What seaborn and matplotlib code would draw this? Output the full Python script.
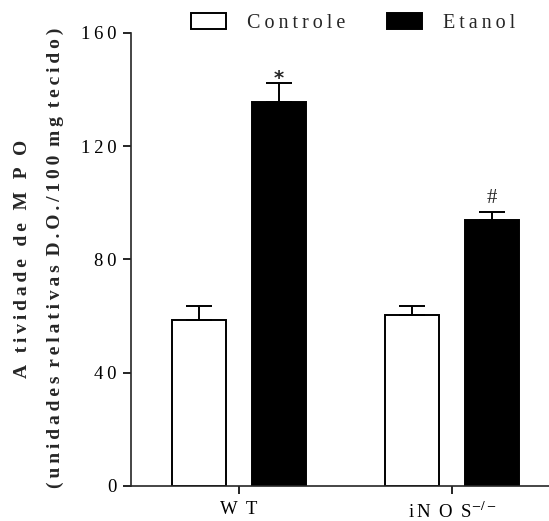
import matplotlib
matplotlib.use("Agg")
import matplotlib.pyplot as plt
from matplotlib.patches import Patch
import pandas as pd
import seaborn as sns

# Data: MPO activity (mean + SEM) per genotype and treatment
groups = ["WT", "iNOS"]
conditions = ["Controle", "Etanol"]
controle_mean = [58.5, 60.5]
etanol_mean = [135.5, 93.8]
controle_sem = [5.2, 3.2]
etanol_sem = [7.0, 3.0]
marks = {"Etanol": ["*", "#"]}
y_ticks = [0, 40, 80, 120, 160]

THIN = "\u2009"


def spaced(text, word_gap=" " + THIN):
    """Letter-spaced text: thin spaces between letters, wider word gaps."""
    out = []
    for i, ch in enumerate(text):
        if ch == " ":
            out.append(word_gap)
            continue
        out.append(ch)
        if i < len(text) - 1 and text[i + 1] != " ":
            out.append(THIN)
    return "".join(out)


sns.set_style("ticks")
plt.rcParams["font.family"] = ["Liberation Serif", "DejaVu Serif"]
plt.rcParams["mathtext.fontset"] = "stix"

df = pd.DataFrame({
    "group": groups * 2,
    "condition": [conditions[0]] * 2 + [conditions[1]] * 2,
    "value": controle_mean + etanol_mean,
})
sems = {"Controle": controle_sem, "Etanol": etanol_sem}
means = {"Controle": controle_mean, "Etanol": etanol_mean}

fig = plt.figure(figsize=(5.49, 5.21), dpi=100)
ax = fig.add_axes([0.2386, 0.0672, 0.7614, 0.8695])

sns.barplot(
    data=df, x="group", y="value", hue="condition",
    order=groups, hue_order=conditions,
    palette={"Controle": "white", "Etanol": "black"},
    edgecolor="black", linewidth=1.4,
    width=0.75, gap=0.33, errorbar=None, legend=False, ax=ax,
)

# Upward-only SEM error bars and significance marks
for cond, container in zip(conditions, ax.containers):
    for i, bar in enumerate(container):
        xc = bar.get_x() + bar.get_width() / 2
        m = means[cond][i]
        s = sems[cond][i]
        ax.errorbar(xc, m, yerr=[[0], [s]], fmt="none", ecolor="black",
                    elinewidth=1.4, capsize=9.5, capthick=1.4, zorder=1)
        if cond in marks:
            sym = marks[cond][i]
            if sym == "*":
                ax.annotate(sym, (xc, m + s), xytext=(0, -4),
                            textcoords="offset points", ha="center",
                            va="bottom", fontsize=14, fontweight="bold",
                            family="DejaVu Sans")
            else:
                ax.annotate(sym, (xc, m + s), xytext=(0, 3),
                            textcoords="offset points", ha="center",
                            va="bottom", fontsize=15)

ax.set_ylim(0, 160)
ax.set_xlim(-0.507, 1.455)
ax.set_yticks(y_ticks)
ax.set_yticklabels([spaced(str(t)) for t in y_ticks], fontsize=13.5)
ax.set_xticks([0, 1])
ax.set_xticklabels([spaced("W T"), spaced("iN O S") + r"$^{-/-}$"],
                   fontsize=13.5)
ax.set_xlabel("")
ax.set_ylabel("")

for side in ["top", "right"]:
    ax.spines[side].set_visible(False)
for side in ["left", "bottom"]:
    ax.spines[side].set_linewidth(1.2)
ax.tick_params(axis="y", length=5.5, width=1.2, pad=5, colors="black")
ax.tick_params(axis="x", length=6, width=1.2, pad=5, colors="black")

# Two-line y axis title
fig.text(23 / 549, 1 - 259 / 521,
         spaced("A tividade de M P O", word_gap=" " + THIN + THIN),
         rotation=90, ha="center", va="center", fontsize=14,
         fontweight="bold")
fig.text(55 / 549, 1 - 258 / 521,
         spaced("(unidades relativas D.O./100 mg tecido)"),
         rotation=90, ha="center", va="center", fontsize=14,
         fontweight="bold")

handles = [Patch(facecolor="white", edgecolor="black", linewidth=1.4),
           Patch(facecolor="black", edgecolor="black", linewidth=1.4)]
fig.legend(handles, [spaced(c) for c in conditions], loc="center",
           bbox_to_anchor=(353 / 549, 1 - 23 / 521), ncol=2, frameon=False,
           fontsize=14.5, handlelength=1.75, handleheight=0.88,
           handletextpad=1.0, columnspacing=2.1, borderpad=0.2)

fig.savefig("out.png", dpi=100)
